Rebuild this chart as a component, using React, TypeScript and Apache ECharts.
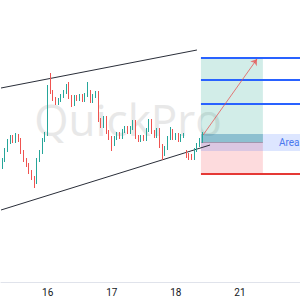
import React, { useEffect, useRef } from "react";
import * as echarts from "echarts";

// hourly category slots (candles + future space)
const categories = Array.from({ length: 112 }, (_, i) => `${i}`);
const tickIndices = [17, 41, 65, 89];
const tickLabels = ["16", "17", "18", "21"];

const opens = [
  1833, 1840, 1850, 1858, 1863, 1859, 1865, 1860, 1848, 1840,
  1835, 1828, 1822, 1818, 1840, 1848, 1860, 1866, 1913, 1908,
  1901, 1897, 1900, 1904, 1908, 1914, 1903, 1896, 1903, 1901,
  1904, 1900, 1905, 1908, 1899, 1904, 1907, 1880, 1874, 1882,
  1868, 1862, 1856, 1862, 1866, 1863, 1869, 1872, 1868, 1872,
  1878, 1863, 1860, 1863, 1861, 1870, 1879, 1868, 1864, 1870,
  1854, 1846, 1852, 1862, 1869, 1862, 1865, 1860, 1864, 1848,
  1845, 1844, 1842, 1850, 1855, 1860,
];
const closes = [
  1840, 1850, 1858, 1863, 1859, 1865, 1860, 1848, 1840, 1835,
  1828, 1822, 1818, 1840, 1848, 1860, 1866, 1913, 1908, 1901,
  1897, 1900, 1904, 1908, 1914, 1903, 1896, 1903, 1901, 1904,
  1900, 1905, 1908, 1899, 1904, 1907, 1880, 1874, 1882, 1868,
  1862, 1856, 1862, 1866, 1863, 1869, 1872, 1868, 1872, 1878,
  1863, 1860, 1863, 1861, 1870, 1879, 1868, 1864, 1870, 1854,
  1846, 1852, 1862, 1869, 1862, 1865, 1860, 1864, 1865, 1844,
  1842, 1841, 1850, 1855, 1860, 1866,
];
const lows = [
  1831, 1838, 1848, 1856, 1857, 1857, 1858, 1846, 1838, 1833,
  1826, 1820, 1812, 1816, 1838, 1846, 1858, 1864, 1906, 1899,
  1895, 1895, 1898, 1902, 1906, 1901, 1893, 1894, 1899, 1899,
  1898, 1898, 1903, 1897, 1897, 1902, 1878, 1872, 1872, 1866,
  1860, 1849, 1854, 1860, 1861, 1861, 1867, 1866, 1866, 1870,
  1861, 1858, 1858, 1859, 1859, 1868, 1866, 1862, 1862, 1852,
  1840, 1844, 1850, 1860, 1860, 1860, 1858, 1858, 1862, 1842,
  1840, 1840, 1840, 1848, 1853, 1857,
];
const highs = [
  1842, 1852, 1861, 1865, 1865, 1867, 1866, 1862, 1850, 1842,
  1837, 1830, 1824, 1842, 1850, 1862, 1868, 1915, 1927, 1910,
  1903, 1902, 1906, 1910, 1916, 1918, 1905, 1905, 1905, 1906,
  1906, 1907, 1918, 1910, 1906, 1909, 1909, 1882, 1884, 1884,
  1870, 1864, 1864, 1868, 1868, 1871, 1874, 1874, 1874, 1880,
  1880, 1865, 1865, 1865, 1872, 1881, 1881, 1870, 1872, 1872,
  1856, 1854, 1864, 1873, 1871, 1867, 1867, 1866, 1867, 1850,
  1847, 1846, 1852, 1857, 1862, 1868,
];

// drawing tools (in data space: x = hour slot, y = price)
const upperTrend = [[-0.5, 1912], [72.9, 1950]];
const lowerTrend = [[-0.5, 1790], [77.8, 1855]];
const zoneStart = 74.4;
const zoneEnd = 97.6;
const lineEnd = 111.5;
const targets = [1942, 1920, 1896];
const entryPrice = 1858;
const stopPrice = 1826;
const areaBand = [1866, 1849];
const arrowFrom = [75.2, 1865];
const arrowTo = [95.4, 1941];

const UP = "#26a69a";
const DOWN = "#ef5350";

export default function App() {
  const ref = useRef<HTMLDivElement>(null);
  useEffect(() => {
    if (!ref.current) return;
    const chart = echarts.init(ref.current, null, { renderer: "svg" });
    const candleData = opens.map((o, i) => [o, closes[i], lows[i], highs[i]]);
    chart.setOption({
      animation: false,
      backgroundColor: "#ffffff",
      grid: { left: 1, right: 0, top: 0, bottom: 18 },
      graphic: [
        {
          type: "text",
          x: 128,
          y: 119,
          z: -10,
          silent: true,
          style: {
            text: "QuickPro",
            fill: "#e8e8e8",
            fontSize: 44,
            fontFamily: "Open Sans",
            align: "center",
            verticalAlign: "middle",
          },
        },
      ],
      xAxis: [
        {
          type: "category",
          data: categories,
          axisLine: { show: true, lineStyle: { color: "#e0e3eb", width: 1 } },
          axisTick: { show: false },
          splitLine: { show: false },
          axisLabel: {
            interval: (index: number) => tickIndices.includes(index),
            formatter: (_v: string, index: number) => {
              const k = tickIndices.indexOf(index);
              return k >= 0 ? tickLabels[k] : "";
            },
            color: "#131722",
            fontSize: 10,
            fontFamily: "Roboto",
            margin: 5,
          },
        },
        {
          type: "value",
          min: -0.5,
          max: 111.5,
          show: false,
        },
      ],
      yAxis: {
        type: "value",
        min: 1718,
        max: 2000,
        show: false,
        splitLine: { show: false },
      },
      series: [
        {
          type: "line",
          xAxisIndex: 1,
          data: upperTrend,
          symbol: "none",
          lineStyle: { color: "#2a2e39", width: 1 },
          z: 3,
          markArea: {
            silent: true,
            data: [
              [
                { coord: [zoneStart, targets[0]], itemStyle: { color: "rgba(8,153,129,0.18)" } },
                { coord: [zoneEnd, entryPrice] },
              ],
              [
                { coord: [zoneStart, entryPrice], itemStyle: { color: "rgba(242,54,69,0.18)" } },
                { coord: [zoneEnd, stopPrice] },
              ],
              [
                {
                  coord: [zoneStart, areaBand[0]],
                  itemStyle: { color: "rgba(41,98,255,0.16)" },
                  label: {
                    show: true,
                    position: "insideLeft",
                    offset: [73, 0],
                    formatter: "Area",
                    color: "#4a78ee",
                    fontSize: 10,
                    fontFamily: "Roboto",
                  },
                },
                { coord: [lineEnd, areaBand[1]] },
              ],
              [
                { coord: [zoneStart, areaBand[0]], itemStyle: { color: "rgba(8,120,120,0.24)" } },
                { coord: [zoneEnd, entryPrice] },
              ],
            ],
          },
          markLine: {
            silent: true,
            symbol: "none",
            label: { show: false },
            data: [
              ...targets.map((t) => [
                { coord: [zoneStart, t], lineStyle: { color: "#2962ff", width: 2, type: "solid" } },
                { coord: [lineEnd, t] },
              ]),
              [
                { coord: [zoneStart, stopPrice], lineStyle: { color: "#e53935", width: 2, type: "solid" } },
                { coord: [lineEnd, stopPrice] },
              ],
              [
                { coord: [zoneStart, entryPrice], lineStyle: { color: "rgba(90,90,110,0.45)", width: 1, type: "solid" } },
                { coord: [zoneEnd, entryPrice] },
              ],
            ],
          },
        },
        {
          type: "line",
          xAxisIndex: 1,
          data: lowerTrend,
          symbol: "none",
          lineStyle: { color: "#2a2e39", width: 1 },
          z: 4,
          markLine: {
            silent: true,
            symbol: ["none", "arrow"],
            symbolSize: 6,
            label: { show: false },
            data: [
              [
                { coord: arrowFrom, lineStyle: { color: "rgba(229,80,80,0.75)", width: 1, type: "solid" } },
                { coord: arrowTo },
              ],
            ],
          },
        },
        {
          type: "candlestick",
          xAxisIndex: 0,
          data: candleData,
          barWidth: 1,
          z: 5,
          itemStyle: {
            color: UP,
            color0: DOWN,
            borderColor: UP,
            borderColor0: DOWN,
            borderWidth: 1,
          },
        },
      ],
    });
    return () => chart.dispose();
  }, []);
  return (
    <div
      ref={ref}
      style={{ position: "fixed", left: 0, top: 0, width: 300, height: 300 }}
    />
  );
}
